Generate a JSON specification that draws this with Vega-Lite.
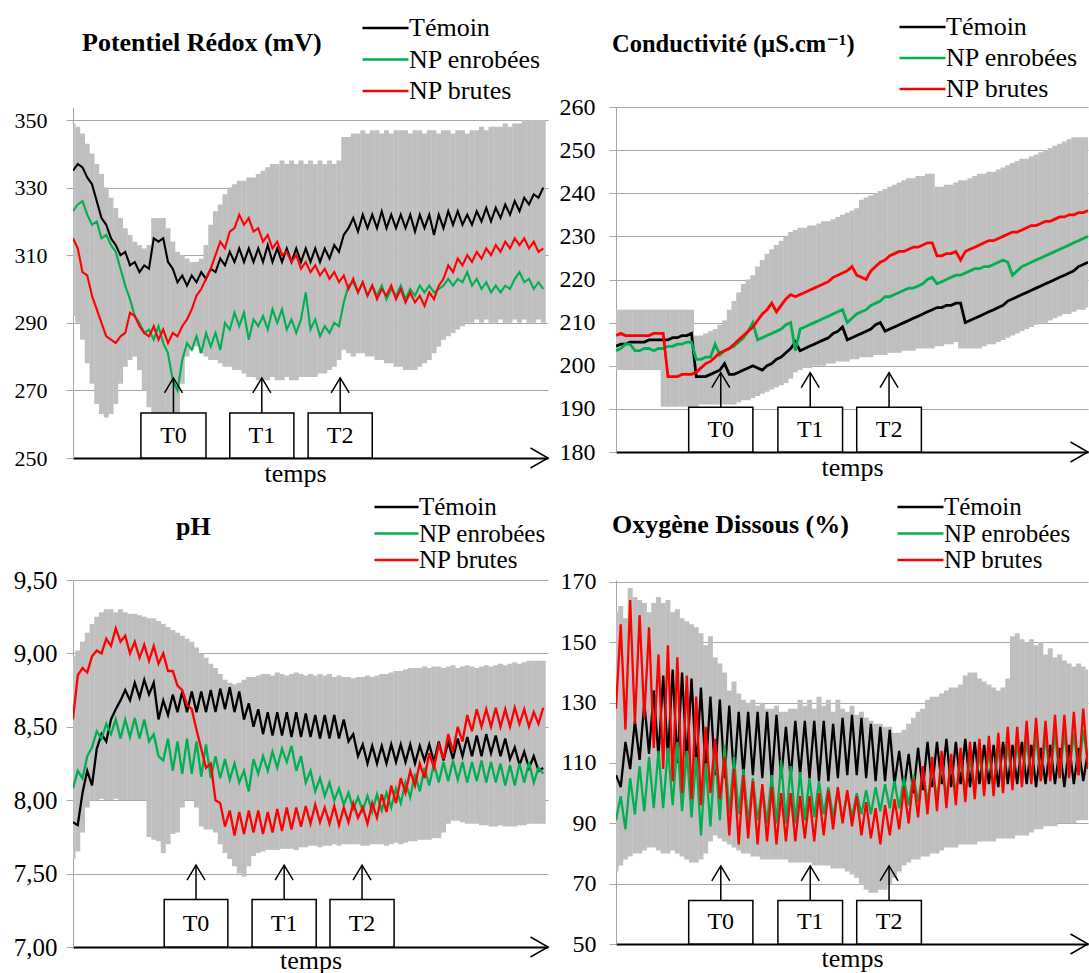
{
"$schema":"https://vega.github.io/schema/vega-lite/v6.json",
"background":"white",
"padding":{"left":13,"top":14,"right":0,"bottom":0},
"config":{"view":{"stroke":null},"font":"'Liberation Serif', 'Times New Roman', 'DejaVu Serif', serif"},
"columns":2,
"spacing":{"row":122,"column":68},
"bounds":"flush",
"resolve":{"legend":{"color":"independent"}},
"datasets":{
"redox":[
{"t":0,"a":335,"b":323,"c":315,"lo":292,"hi":349},{"t":1,"a":337,"b":325,"c":312,"lo":290,"hi":348},{"t":2,"a":336,"b":326,"c":305,"lo":285,"hi":346},{"t":3,"a":333,"b":322,"c":304,"lo":278,"hi":343},{"t":4,"a":331,"b":319,"c":298,"lo":272,"hi":340},{"t":5,"a":326,"b":320,"c":294,"lo":266,"hi":337},{"t":6,"a":321,"b":315,"c":290,"lo":263,"hi":334},{"t":7,"a":319,"b":316,"c":286,"lo":262,"hi":330},{"t":8,"a":315,"b":313,"c":285,"lo":263,"hi":327},{"t":9,"a":313,"b":311,"c":284,"lo":266,"hi":324},
{"t":10,"a":310,"b":306,"c":286,"lo":272,"hi":321},{"t":11,"a":311,"b":301,"c":287,"lo":277,"hi":318},{"t":12,"a":307,"b":297,"c":293,"lo":279,"hi":316},{"t":13,"a":308,"b":292,"c":292,"lo":280,"hi":314},{"t":14,"a":305,"b":290,"c":289,"lo":276,"hi":313},{"t":15,"a":307,"b":287,"c":287,"lo":270,"hi":312},{"t":16,"a":306,"b":288,"c":286,"lo":265,"hi":313},{"t":17,"a":315,"b":285,"c":289,"lo":262,"hi":321},{"t":18,"a":314,"b":289,"c":285,"lo":262,"hi":321},{"t":19,"a":315,"b":284,"c":288,"lo":263,"hi":321},
{"t":20,"a":308,"b":281,"c":284,"lo":262,"hi":318},{"t":21,"a":306,"b":273,"c":287,"lo":262,"hi":314},{"t":22,"a":302,"b":270,"c":286,"lo":263,"hi":311},{"t":23,"a":304,"b":279,"c":289,"lo":272,"hi":310},{"t":24,"a":301,"b":284,"c":291,"lo":280,"hi":309},{"t":25,"a":304,"b":282,"c":294,"lo":282,"hi":308},{"t":26,"a":302,"b":286,"c":298,"lo":283,"hi":308},{"t":27,"a":305,"b":281,"c":300,"lo":281,"hi":309},{"t":28,"a":303,"b":287,"c":303,"lo":280,"hi":313},{"t":29,"a":306,"b":283,"c":306,"lo":279,"hi":319},
{"t":30,"a":305,"b":287,"c":310,"lo":279,"hi":323},{"t":31,"a":309,"b":282,"c":314,"lo":278,"hi":325},{"t":32,"a":307,"b":290,"c":312,"lo":277,"hi":328},{"t":33,"a":311,"b":288,"c":317,"lo":277,"hi":330},{"t":34,"a":308,"b":293,"c":318,"lo":276,"hi":331},{"t":35,"a":312,"b":289,"c":322,"lo":276,"hi":332},{"t":36,"a":308,"b":293,"c":319,"lo":275,"hi":332},{"t":37,"a":312,"b":285,"c":321,"lo":274,"hi":333},{"t":38,"a":308,"b":291,"c":317,"lo":274,"hi":333},{"t":39,"a":312,"b":289,"c":318,"lo":273,"hi":334},
{"t":40,"a":308,"b":292,"c":314,"lo":273,"hi":335},{"t":41,"a":313,"b":288,"c":316,"lo":273,"hi":336},{"t":42,"a":308,"b":294,"c":312,"lo":274,"hi":337},{"t":43,"a":312,"b":290,"c":314,"lo":273,"hi":337},{"t":44,"a":308,"b":294,"c":310,"lo":273,"hi":338},{"t":45,"a":312,"b":288,"c":311,"lo":274,"hi":337},{"t":46,"a":308,"b":291,"c":308,"lo":273,"hi":338},{"t":47,"a":312,"b":287,"c":310,"lo":273,"hi":337},{"t":48,"a":308,"b":291,"c":306,"lo":274,"hi":338},{"t":49,"a":312,"b":299,"c":308,"lo":274,"hi":337},
{"t":50,"a":308,"b":288,"c":305,"lo":274,"hi":338},{"t":51,"a":312,"b":291,"c":307,"lo":274,"hi":337},{"t":52,"a":308,"b":286,"c":304,"lo":275,"hi":338},{"t":53,"a":312,"b":289,"c":306,"lo":275,"hi":337},{"t":54,"a":309,"b":287,"c":303,"lo":276,"hi":338},{"t":55,"a":313,"b":290,"c":305,"lo":277,"hi":337},{"t":56,"a":311,"b":289,"c":302,"lo":279,"hi":338},{"t":57,"a":316,"b":296,"c":304,"lo":282,"hi":345},{"t":58,"a":318,"b":301,"c":300,"lo":281,"hi":345},{"t":59,"a":321,"b":302,"c":303,"lo":280,"hi":346},
{"t":60,"a":317,"b":299,"c":299,"lo":281,"hi":346},{"t":61,"a":322,"b":302,"c":302,"lo":281,"hi":347},{"t":62,"a":318,"b":298,"c":298,"lo":280,"hi":346},{"t":63,"a":322,"b":301,"c":301,"lo":280,"hi":347},{"t":64,"a":318,"b":298,"c":297,"lo":279,"hi":347},{"t":65,"a":323,"b":301,"c":300,"lo":279,"hi":346},{"t":66,"a":318,"b":297,"c":298,"lo":278,"hi":347},{"t":67,"a":322,"b":300,"c":301,"lo":278,"hi":346},{"t":68,"a":318,"b":298,"c":297,"lo":277,"hi":347},{"t":69,"a":322,"b":301,"c":300,"lo":277,"hi":347},
{"t":70,"a":318,"b":297,"c":296,"lo":276,"hi":347},{"t":71,"a":322,"b":300,"c":299,"lo":276,"hi":346},{"t":72,"a":317,"b":298,"c":296,"lo":276,"hi":347},{"t":73,"a":322,"b":301,"c":298,"lo":277,"hi":347},{"t":74,"a":318,"b":299,"c":295,"lo":278,"hi":346},{"t":75,"a":322,"b":301,"c":299,"lo":279,"hi":347},{"t":76,"a":316,"b":299,"c":297,"lo":281,"hi":347},{"t":77,"a":322,"b":300,"c":301,"lo":283,"hi":346},{"t":78,"a":318,"b":301,"c":303,"lo":285,"hi":347},{"t":79,"a":323,"b":303,"c":307,"lo":286,"hi":347},
{"t":80,"a":319,"b":301,"c":305,"lo":287,"hi":346},{"t":81,"a":323,"b":303,"c":309,"lo":288,"hi":347},{"t":82,"a":319,"b":302,"c":307,"lo":289,"hi":347},{"t":83,"a":322,"b":305,"c":310,"lo":290,"hi":346},{"t":84,"a":319,"b":301,"c":308,"lo":290,"hi":347},{"t":85,"a":323,"b":303,"c":311,"lo":291,"hi":347},{"t":86,"a":320,"b":300,"c":309,"lo":290,"hi":348},{"t":87,"a":324,"b":302,"c":312,"lo":291,"hi":347},{"t":88,"a":320,"b":299,"c":310,"lo":290,"hi":348},{"t":89,"a":324,"b":301,"c":313,"lo":290,"hi":348},
{"t":90,"a":321,"b":299,"c":311,"lo":291,"hi":348},{"t":91,"a":325,"b":301,"c":314,"lo":290,"hi":349},{"t":92,"a":322,"b":300,"c":312,"lo":290,"hi":348},{"t":93,"a":326,"b":303,"c":315,"lo":291,"hi":349},{"t":94,"a":323,"b":305,"c":313,"lo":290,"hi":349},{"t":95,"a":327,"b":302,"c":315,"lo":291,"hi":350},{"t":96,"a":325,"b":303,"c":312,"lo":290,"hi":350},{"t":97,"a":328,"b":300,"c":314,"lo":290,"hi":350},{"t":98,"a":327,"b":302,"c":311,"lo":291,"hi":350},{"t":99,"a":330,"b":300,"c":312,"lo":290,"hi":350}
],
"cond":[
{"t":0,"a":204.5,"b":203.5,"c":207,"lo":199,"hi":213},{"t":1,"a":205,"b":204,"c":207.5,"lo":199,"hi":213},{"t":2,"a":205,"b":205,"c":207,"lo":199,"hi":213},{"t":3,"a":205.5,"b":205,"c":207,"lo":199,"hi":213},{"t":4,"a":205.5,"b":203.5,"c":207,"lo":199,"hi":213},{"t":5,"a":205.5,"b":203.5,"c":207,"lo":199,"hi":213},{"t":6,"a":205.5,"b":204,"c":207,"lo":199,"hi":213},{"t":7,"a":206,"b":204,"c":207,"lo":199,"hi":213},{"t":8,"a":206,"b":203.5,"c":207.5,"lo":199,"hi":213},{"t":9,"a":206,"b":204,"c":207.5,"lo":199,"hi":213},
{"t":10,"a":206,"b":204,"c":207.5,"lo":190.5,"hi":213},{"t":11,"a":206,"b":204.5,"c":197.5,"lo":190.5,"hi":213},{"t":12,"a":206.5,"b":204.5,"c":197.5,"lo":190.5,"hi":213},{"t":13,"a":206.5,"b":205,"c":197.5,"lo":190.5,"hi":213},{"t":14,"a":207,"b":205,"c":198,"lo":190.5,"hi":213},{"t":15,"a":207,"b":205.5,"c":198,"lo":190.5,"hi":213},{"t":16,"a":207.5,"b":205.5,"c":198,"lo":190.5,"hi":213},{"t":17,"a":197.5,"b":201.5,"c":198.5,"lo":190.5,"hi":207},{"t":18,"a":197.5,"b":201.5,"c":199.5,"lo":191,"hi":207},{"t":19,"a":197.5,"b":202,"c":200.5,"lo":191,"hi":207.5},
{"t":20,"a":198,"b":202,"c":201,"lo":191,"hi":208},{"t":21,"a":198.5,"b":205,"c":202,"lo":191,"hi":208.5},{"t":22,"a":199,"b":202.5,"c":203,"lo":191,"hi":209.5},{"t":23,"a":200.5,"b":203.5,"c":203.5,"lo":191,"hi":210.5},{"t":24,"a":198,"b":204,"c":204,"lo":191,"hi":213},{"t":25,"a":198,"b":204.5,"c":205,"lo":191,"hi":215},{"t":26,"a":198.5,"b":205.5,"c":206,"lo":191.5,"hi":217},{"t":27,"a":199,"b":206.5,"c":207,"lo":192,"hi":219},{"t":28,"a":199.5,"b":208,"c":208,"lo":192,"hi":220},{"t":29,"a":200,"b":210,"c":209,"lo":192.5,"hi":221},
{"t":30,"a":199.5,"b":206,"c":210.5,"lo":193,"hi":223},{"t":31,"a":199,"b":206.5,"c":212,"lo":193.5,"hi":224.5},{"t":32,"a":200,"b":207,"c":213,"lo":194,"hi":226},{"t":33,"a":200.5,"b":207.5,"c":214.5,"lo":194.5,"hi":227},{"t":34,"a":201.5,"b":208,"c":212.5,"lo":195,"hi":228},{"t":35,"a":202,"b":208.5,"c":214,"lo":195.5,"hi":229},{"t":36,"a":203,"b":209.5,"c":215.5,"lo":196,"hi":230},{"t":37,"a":204,"b":210,"c":216.5,"lo":197,"hi":231},{"t":38,"a":205.5,"b":203.5,"c":216,"lo":198.5,"hi":231.5},{"t":39,"a":203.5,"b":208.5,"c":216.5,"lo":199,"hi":232},
{"t":40,"a":204,"b":209,"c":217,"lo":199.5,"hi":232},{"t":41,"a":204.5,"b":209.5,"c":217.5,"lo":199.5,"hi":232.5},{"t":42,"a":205,"b":210,"c":218,"lo":200,"hi":232.5},{"t":43,"a":205.5,"b":210.5,"c":218.5,"lo":200,"hi":233},{"t":44,"a":206,"b":211,"c":219,"lo":200,"hi":233.5},{"t":45,"a":206.5,"b":211.5,"c":219.5,"lo":200.5,"hi":233.5},{"t":46,"a":207.5,"b":212,"c":220.5,"lo":200.5,"hi":234},{"t":47,"a":208,"b":212.5,"c":221,"lo":201,"hi":234.5},{"t":48,"a":209,"b":213,"c":221.5,"lo":201,"hi":235},{"t":49,"a":206,"b":210,"c":222,"lo":201,"hi":235.5},
{"t":50,"a":206.5,"b":211,"c":223,"lo":201.5,"hi":236},{"t":51,"a":207,"b":212,"c":221,"lo":201.5,"hi":236.5},{"t":52,"a":207.5,"b":212.5,"c":220.5,"lo":202,"hi":238.5},{"t":53,"a":208,"b":213,"c":220,"lo":202,"hi":239},{"t":54,"a":208.5,"b":214,"c":222,"lo":202,"hi":239.5},{"t":55,"a":209.5,"b":214.5,"c":223,"lo":202.5,"hi":240},{"t":56,"a":210,"b":215,"c":224,"lo":202.5,"hi":240.5},{"t":57,"a":208,"b":216,"c":224.5,"lo":202.5,"hi":241},{"t":58,"a":208.5,"b":216,"c":225.5,"lo":203,"hi":241.5},{"t":59,"a":209,"b":216.5,"c":226,"lo":203,"hi":242},
{"t":60,"a":209.5,"b":217,"c":226.5,"lo":203,"hi":242.5},{"t":61,"a":210,"b":217.5,"c":226.5,"lo":203.5,"hi":243},{"t":62,"a":210.5,"b":218,"c":227,"lo":203.5,"hi":243.5},{"t":63,"a":211,"b":218,"c":227.5,"lo":203.5,"hi":243.5},{"t":64,"a":211.5,"b":218.5,"c":227.5,"lo":204,"hi":244},{"t":65,"a":212,"b":219,"c":228,"lo":204,"hi":244},{"t":66,"a":212.5,"b":220,"c":228.5,"lo":204,"hi":244.5},{"t":67,"a":213,"b":220.5,"c":228.5,"lo":204,"hi":244.5},{"t":68,"a":213.5,"b":219,"c":225.5,"lo":204.5,"hi":241.5},{"t":69,"a":213.5,"b":219.5,"c":225.5,"lo":204.5,"hi":241.5},
{"t":70,"a":214,"b":220,"c":226,"lo":205,"hi":242},{"t":71,"a":214,"b":220.5,"c":226,"lo":205,"hi":242},{"t":72,"a":214.5,"b":221,"c":226.5,"lo":205.5,"hi":242.5},{"t":73,"a":214.5,"b":221,"c":224.5,"lo":204,"hi":243},{"t":74,"a":210,"b":221.5,"c":226.5,"lo":204,"hi":243},{"t":75,"a":210.5,"b":222,"c":227,"lo":204,"hi":243.5},{"t":76,"a":211,"b":222.5,"c":227.5,"lo":204,"hi":244},{"t":77,"a":211.5,"b":222.5,"c":228,"lo":204,"hi":244.5},{"t":78,"a":212,"b":223,"c":228.5,"lo":204.5,"hi":244.5},{"t":79,"a":212.5,"b":223,"c":229,"lo":205,"hi":245},
{"t":80,"a":213,"b":223.5,"c":229,"lo":205,"hi":245},{"t":81,"a":213.5,"b":224,"c":229.5,"lo":205.5,"hi":245.5},{"t":82,"a":214,"b":224.5,"c":230,"lo":206,"hi":246},{"t":83,"a":215,"b":224,"c":230.5,"lo":206.5,"hi":246.5},{"t":84,"a":215.5,"b":221,"c":231,"lo":207,"hi":247},{"t":85,"a":216,"b":222,"c":231,"lo":207.5,"hi":247.5},{"t":86,"a":216.5,"b":223,"c":231.5,"lo":208,"hi":248},{"t":87,"a":217,"b":223.5,"c":232,"lo":208.5,"hi":248},{"t":88,"a":217.5,"b":224,"c":232.5,"lo":209,"hi":248.5},{"t":89,"a":218,"b":224.5,"c":232.5,"lo":209.5,"hi":249},
{"t":90,"a":218.5,"b":225,"c":233,"lo":210,"hi":249.5},{"t":91,"a":219,"b":225.5,"c":233.5,"lo":210,"hi":250},{"t":92,"a":219.5,"b":226,"c":233.5,"lo":210.5,"hi":250.5},{"t":93,"a":220,"b":226.5,"c":234,"lo":211,"hi":251},{"t":94,"a":220.5,"b":227,"c":234.5,"lo":211.5,"hi":251.5},{"t":95,"a":221,"b":227.5,"c":234.5,"lo":212,"hi":252},{"t":96,"a":221.5,"b":228,"c":235,"lo":212,"hi":252.5},{"t":97,"a":222,"b":228.5,"c":235,"lo":212.5,"hi":253},{"t":98,"a":223,"b":229,"c":235.5,"lo":213,"hi":253},{"t":99,"a":223.5,"b":229.5,"c":235.5,"lo":213,"hi":253},{"t":100,"a":224,"b":230,"c":236,"lo":213.5,"hi":253}
],
"ph":[
{"t":0,"a":7.85,"b":8.08,"c":8.55,"lo":7.6,"hi":8.98},{"t":1,"a":7.83,"b":8.2,"c":8.85,"lo":7.65,"hi":9.02},{"t":2,"a":8.05,"b":8.15,"c":8.9,"lo":7.78,"hi":9.08},{"t":3,"a":8.2,"b":8.3,"c":8.87,"lo":7.95,"hi":9.14},{"t":4,"a":8.1,"b":8.36,"c":8.98,"lo":8.0,"hi":9.2},{"t":5,"a":8.35,"b":8.47,"c":9.02,"lo":8.0,"hi":9.25},{"t":6,"a":8.45,"b":8.42,"c":9.0,"lo":8.01,"hi":9.28},{"t":7,"a":8.4,"b":8.52,"c":9.1,"lo":8.0,"hi":9.3},{"t":8,"a":8.55,"b":8.45,"c":9.05,"lo":8.0,"hi":9.3},{"t":9,"a":8.62,"b":8.55,"c":9.17,"lo":8.01,"hi":9.28},
{"t":10,"a":8.68,"b":8.42,"c":9.08,"lo":8.0,"hi":9.3},{"t":11,"a":8.75,"b":8.55,"c":9.12,"lo":8.0,"hi":9.28},{"t":12,"a":8.68,"b":8.43,"c":9.0,"lo":8.0,"hi":9.27},{"t":13,"a":8.8,"b":8.56,"c":9.08,"lo":8.0,"hi":9.27},{"t":14,"a":8.7,"b":8.42,"c":8.97,"lo":8.0,"hi":9.26},{"t":15,"a":8.82,"b":8.55,"c":9.06,"lo":8.0,"hi":9.25},{"t":16,"a":8.72,"b":8.4,"c":8.95,"lo":7.75,"hi":9.24},{"t":17,"a":8.8,"b":8.45,"c":9.05,"lo":7.73,"hi":9.24},{"t":18,"a":8.55,"b":8.3,"c":8.93,"lo":7.72,"hi":9.22},{"t":19,"a":8.68,"b":8.27,"c":9.0,"lo":7.64,"hi":9.2},
{"t":20,"a":8.58,"b":8.42,"c":8.88,"lo":7.7,"hi":9.18},{"t":21,"a":8.72,"b":8.2,"c":8.88,"lo":7.77,"hi":9.16},{"t":22,"a":8.6,"b":8.4,"c":8.78,"lo":7.78,"hi":9.14},{"t":23,"a":8.74,"b":8.18,"c":8.75,"lo":7.95,"hi":9.12},{"t":24,"a":8.6,"b":8.42,"c":8.65,"lo":8.0,"hi":9.1},{"t":25,"a":8.74,"b":8.18,"c":8.62,"lo":8.0,"hi":9.08},{"t":26,"a":8.6,"b":8.4,"c":8.48,"lo":7.95,"hi":9.04},{"t":27,"a":8.74,"b":8.16,"c":8.35,"lo":7.82,"hi":9.0},{"t":28,"a":8.6,"b":8.38,"c":8.22,"lo":7.8,"hi":8.97},{"t":29,"a":8.75,"b":8.15,"c":8.25,"lo":7.8,"hi":8.93},
{"t":30,"a":8.6,"b":8.3,"c":8.0,"lo":7.78,"hi":8.9},{"t":31,"a":8.76,"b":8.15,"c":7.98,"lo":7.7,"hi":8.86},{"t":32,"a":8.62,"b":8.28,"c":7.82,"lo":7.64,"hi":8.82},{"t":33,"a":8.77,"b":8.14,"c":7.93,"lo":7.6,"hi":8.8},{"t":34,"a":8.6,"b":8.25,"c":7.76,"lo":7.55,"hi":8.79},{"t":35,"a":8.74,"b":8.12,"c":7.92,"lo":7.5,"hi":8.8},{"t":36,"a":8.55,"b":8.2,"c":7.77,"lo":7.48,"hi":8.82},{"t":37,"a":8.66,"b":8.06,"c":7.93,"lo":7.55,"hi":8.84},{"t":38,"a":8.5,"b":8.28,"c":7.78,"lo":7.62,"hi":8.84},{"t":39,"a":8.62,"b":8.18,"c":7.93,"lo":7.64,"hi":8.85},
{"t":40,"a":8.45,"b":8.3,"c":7.77,"lo":7.65,"hi":8.86},{"t":41,"a":8.6,"b":8.2,"c":7.92,"lo":7.66,"hi":8.86},{"t":42,"a":8.44,"b":8.33,"c":7.78,"lo":7.66,"hi":8.85},{"t":43,"a":8.6,"b":8.22,"c":7.94,"lo":7.66,"hi":8.87},{"t":44,"a":8.44,"b":8.35,"c":7.79,"lo":7.67,"hi":8.86},{"t":45,"a":8.6,"b":8.26,"c":7.95,"lo":7.67,"hi":8.85},{"t":46,"a":8.43,"b":8.37,"c":7.8,"lo":7.67,"hi":8.86},{"t":47,"a":8.6,"b":8.2,"c":7.95,"lo":7.66,"hi":8.87},{"t":48,"a":8.43,"b":8.3,"c":7.82,"lo":7.68,"hi":8.86},{"t":49,"a":8.59,"b":8.12,"c":7.96,"lo":7.68,"hi":8.85},
{"t":50,"a":8.43,"b":8.2,"c":7.84,"lo":7.69,"hi":8.86},{"t":51,"a":8.58,"b":8.06,"c":7.97,"lo":7.69,"hi":8.85},{"t":52,"a":8.42,"b":8.15,"c":7.85,"lo":7.68,"hi":8.86},{"t":53,"a":8.58,"b":8.03,"c":7.95,"lo":7.69,"hi":8.85},{"t":54,"a":8.42,"b":8.12,"c":7.84,"lo":7.69,"hi":8.86},{"t":55,"a":8.58,"b":8.0,"c":7.96,"lo":7.7,"hi":8.84},{"t":56,"a":8.42,"b":8.08,"c":7.83,"lo":7.69,"hi":8.85},{"t":57,"a":8.55,"b":7.97,"c":7.95,"lo":7.7,"hi":8.84},{"t":58,"a":8.4,"b":8.05,"c":7.85,"lo":7.7,"hi":8.84},{"t":59,"a":8.45,"b":7.94,"c":7.98,"lo":7.7,"hi":8.83},
{"t":60,"a":8.3,"b":8.02,"c":7.88,"lo":7.7,"hi":8.84},{"t":61,"a":8.38,"b":7.93,"c":7.95,"lo":7.69,"hi":8.84},{"t":62,"a":8.25,"b":8.03,"c":7.84,"lo":7.69,"hi":8.85},{"t":63,"a":8.37,"b":7.92,"c":7.98,"lo":7.7,"hi":8.84},{"t":64,"a":8.25,"b":8.04,"c":7.88,"lo":7.7,"hi":8.85},{"t":65,"a":8.37,"b":7.93,"c":8.04,"lo":7.7,"hi":8.86},{"t":66,"a":8.25,"b":8.05,"c":7.92,"lo":7.69,"hi":8.86},{"t":67,"a":8.38,"b":7.95,"c":8.1,"lo":7.7,"hi":8.87},{"t":68,"a":8.26,"b":8.08,"c":7.98,"lo":7.71,"hi":8.88},{"t":69,"a":8.38,"b":7.98,"c":8.15,"lo":7.7,"hi":8.88},
{"t":70,"a":8.26,"b":8.12,"c":8.05,"lo":7.71,"hi":8.89},{"t":71,"a":8.38,"b":8.02,"c":8.2,"lo":7.72,"hi":8.9},{"t":72,"a":8.25,"b":8.18,"c":8.1,"lo":7.72,"hi":8.9},{"t":73,"a":8.37,"b":8.06,"c":8.25,"lo":7.73,"hi":8.9},{"t":74,"a":8.27,"b":8.22,"c":8.15,"lo":7.73,"hi":8.91},{"t":75,"a":8.38,"b":8.1,"c":8.32,"lo":7.73,"hi":8.9},{"t":76,"a":8.26,"b":8.25,"c":8.22,"lo":7.74,"hi":8.91},{"t":77,"a":8.4,"b":8.12,"c":8.38,"lo":7.74,"hi":8.91},{"t":78,"a":8.27,"b":8.26,"c":8.28,"lo":7.78,"hi":8.9},{"t":79,"a":8.4,"b":8.13,"c":8.45,"lo":7.84,"hi":8.91},
{"t":80,"a":8.28,"b":8.27,"c":8.33,"lo":7.86,"hi":8.92},{"t":81,"a":8.42,"b":8.14,"c":8.5,"lo":7.86,"hi":8.9},{"t":82,"a":8.3,"b":8.26,"c":8.4,"lo":7.85,"hi":8.91},{"t":83,"a":8.43,"b":8.12,"c":8.58,"lo":7.84,"hi":8.92},{"t":84,"a":8.3,"b":8.26,"c":8.47,"lo":7.84,"hi":8.91},{"t":85,"a":8.44,"b":8.13,"c":8.62,"lo":7.84,"hi":8.9},{"t":86,"a":8.3,"b":8.27,"c":8.5,"lo":7.83,"hi":8.91},{"t":87,"a":8.45,"b":8.12,"c":8.62,"lo":7.83,"hi":8.92},{"t":88,"a":8.32,"b":8.26,"c":8.5,"lo":7.82,"hi":8.91},{"t":89,"a":8.44,"b":8.12,"c":8.63,"lo":7.82,"hi":8.92},
{"t":90,"a":8.3,"b":8.25,"c":8.5,"lo":7.83,"hi":8.93},{"t":91,"a":8.42,"b":8.1,"c":8.62,"lo":7.82,"hi":8.92},{"t":92,"a":8.28,"b":8.24,"c":8.5,"lo":7.82,"hi":8.93},{"t":93,"a":8.36,"b":8.1,"c":8.63,"lo":7.82,"hi":8.94},{"t":94,"a":8.24,"b":8.25,"c":8.52,"lo":7.83,"hi":8.93},{"t":95,"a":8.33,"b":8.12,"c":8.62,"lo":7.83,"hi":8.94},{"t":96,"a":8.22,"b":8.26,"c":8.5,"lo":7.84,"hi":8.95},{"t":97,"a":8.3,"b":8.12,"c":8.6,"lo":7.84,"hi":8.95},{"t":98,"a":8.2,"b":8.22,"c":8.52,"lo":7.84,"hi":8.95},{"t":99,"a":8.22,"b":8.18,"c":8.63,"lo":7.84,"hi":8.95}
],
"o2":[
{"t":0,"a":106,"b":91,"c":128,"lo":74,"hi":160},{"t":1,"a":102,"b":99,"c":156,"lo":76,"hi":162},{"t":2,"a":117,"b":88,"c":121,"lo":78,"hi":158},{"t":3,"a":108,"b":105,"c":164,"lo":79,"hi":168},{"t":4,"a":124,"b":93,"c":123,"lo":80,"hi":165},{"t":5,"a":111,"b":109,"c":159,"lo":80,"hi":164},{"t":6,"a":130,"b":94,"c":125,"lo":81,"hi":163},{"t":7,"a":113,"b":112,"c":155,"lo":82,"hi":160},{"t":8,"a":134,"b":95,"c":115,"lo":82,"hi":163},{"t":9,"a":112,"b":114,"c":146,"lo":81,"hi":165},
{"t":10,"a":139,"b":95,"c":108,"lo":80,"hi":163},{"t":11,"a":112,"b":115,"c":149,"lo":80,"hi":164},{"t":12,"a":141,"b":96,"c":104,"lo":81,"hi":160},{"t":13,"a":110,"b":117,"c":145,"lo":80,"hi":161},{"t":14,"a":140,"b":94,"c":100,"lo":79,"hi":158},{"t":15,"a":110,"b":114,"c":139,"lo":78,"hi":157},{"t":16,"a":138,"b":92,"c":98,"lo":77,"hi":156},{"t":17,"a":108,"b":112,"c":132,"lo":77,"hi":155},{"t":18,"a":135,"b":86,"c":96,"lo":78,"hi":153},{"t":19,"a":107,"b":110,"c":122,"lo":80,"hi":149},
{"t":20,"a":132,"b":89,"c":100,"lo":84,"hi":152},{"t":21,"a":106,"b":114,"c":118,"lo":86,"hi":145},{"t":22,"a":131,"b":91,"c":98,"lo":85,"hi":143},{"t":23,"a":105,"b":116,"c":112,"lo":84,"hi":140},{"t":24,"a":129,"b":93,"c":86,"lo":83,"hi":134},{"t":25,"a":105,"b":112,"c":108,"lo":82,"hi":137},{"t":26,"a":127,"b":93,"c":83,"lo":81,"hi":133},{"t":27,"a":106,"b":108,"c":106,"lo":80,"hi":131},{"t":28,"a":127,"b":90,"c":85,"lo":80,"hi":130},{"t":29,"a":106,"b":105,"c":104,"lo":79,"hi":131},
{"t":30,"a":127,"b":91,"c":83,"lo":79,"hi":129},{"t":31,"a":105,"b":102,"c":103,"lo":78,"hi":130},{"t":32,"a":127,"b":90,"c":84,"lo":78,"hi":128},{"t":33,"a":104,"b":106,"c":102,"lo":78,"hi":128},{"t":34,"a":126,"b":90,"c":83,"lo":78,"hi":129},{"t":35,"a":105,"b":111,"c":100,"lo":78,"hi":127},{"t":36,"a":122,"b":90,"c":84,"lo":78,"hi":127},{"t":37,"a":105,"b":109,"c":100,"lo":77,"hi":128},{"t":38,"a":124,"b":90,"c":84,"lo":77,"hi":128},{"t":39,"a":106,"b":107,"c":99,"lo":77,"hi":131},
{"t":40,"a":124,"b":91,"c":85,"lo":77,"hi":129},{"t":41,"a":105,"b":105,"c":99,"lo":77,"hi":131},{"t":42,"a":124,"b":92,"c":84,"lo":76,"hi":128},{"t":43,"a":104,"b":104,"c":100,"lo":76,"hi":132},{"t":44,"a":124,"b":93,"c":86,"lo":76,"hi":129},{"t":45,"a":104,"b":102,"c":101,"lo":76,"hi":131},{"t":46,"a":123,"b":92,"c":88,"lo":75,"hi":127},{"t":47,"a":105,"b":101,"c":102,"lo":75,"hi":131},{"t":48,"a":125,"b":91,"c":90,"lo":75,"hi":128},{"t":49,"a":106,"b":100,"c":101,"lo":74,"hi":127},
{"t":50,"a":126,"b":92,"c":89,"lo":73,"hi":129},{"t":51,"a":106,"b":100,"c":99,"lo":72,"hi":126},{"t":52,"a":125,"b":93,"c":86,"lo":70,"hi":127},{"t":53,"a":105,"b":101,"c":97,"lo":68,"hi":125},{"t":54,"a":123,"b":93,"c":85,"lo":67,"hi":124},{"t":55,"a":104,"b":102,"c":95,"lo":67,"hi":123},{"t":56,"a":122,"b":94,"c":83,"lo":68,"hi":123},{"t":57,"a":104,"b":103,"c":96,"lo":68,"hi":122},{"t":58,"a":121,"b":95,"c":86,"lo":70,"hi":122},{"t":59,"a":103,"b":104,"c":98,"lo":72,"hi":120},
{"t":60,"a":114,"b":95,"c":88,"lo":74,"hi":120},{"t":61,"a":101,"b":105,"c":102,"lo":76,"hi":121},{"t":62,"a":113,"b":96,"c":90,"lo":77,"hi":123},{"t":63,"a":100,"b":106,"c":105,"lo":78,"hi":125},{"t":64,"a":115,"b":97,"c":92,"lo":78,"hi":127},{"t":65,"a":101,"b":107,"c":109,"lo":79,"hi":128},{"t":66,"a":117,"b":97,"c":93,"lo":79,"hi":131},{"t":67,"a":102,"b":108,"c":112,"lo":80,"hi":132},{"t":68,"a":117,"b":98,"c":94,"lo":80,"hi":132},{"t":69,"a":103,"b":109,"c":114,"lo":81,"hi":133},
{"t":70,"a":118,"b":99,"c":95,"lo":82,"hi":134},{"t":71,"a":102,"b":110,"c":113,"lo":82,"hi":135},{"t":72,"a":117,"b":100,"c":96,"lo":82,"hi":135},{"t":73,"a":103,"b":111,"c":115,"lo":83,"hi":136},{"t":74,"a":118,"b":100,"c":97,"lo":83,"hi":139},{"t":75,"a":102,"b":112,"c":117,"lo":83,"hi":140},{"t":76,"a":117,"b":101,"c":98,"lo":83,"hi":140},{"t":77,"a":103,"b":113,"c":118,"lo":84,"hi":138},{"t":78,"a":116,"b":101,"c":99,"lo":84,"hi":137},{"t":79,"a":103,"b":114,"c":119,"lo":84,"hi":136},
{"t":80,"a":116,"b":102,"c":99,"lo":84,"hi":135},{"t":81,"a":102,"b":115,"c":120,"lo":85,"hi":134},{"t":82,"a":117,"b":102,"c":100,"lo":85,"hi":135},{"t":83,"a":103,"b":116,"c":122,"lo":85,"hi":138},{"t":84,"a":116,"b":103,"c":101,"lo":85,"hi":152},{"t":85,"a":103,"b":117,"c":122,"lo":86,"hi":153},{"t":86,"a":117,"b":103,"c":102,"lo":86,"hi":151},{"t":87,"a":103,"b":118,"c":124,"lo":86,"hi":150},{"t":88,"a":116,"b":104,"c":103,"lo":87,"hi":151},{"t":89,"a":102,"b":119,"c":125,"lo":88,"hi":149},
{"t":90,"a":115,"b":104,"c":104,"lo":88,"hi":150},{"t":91,"a":103,"b":119,"c":124,"lo":89,"hi":146},{"t":92,"a":116,"b":105,"c":104,"lo":89,"hi":148},{"t":93,"a":103,"b":120,"c":126,"lo":89,"hi":145},{"t":94,"a":115,"b":105,"c":105,"lo":90,"hi":146},{"t":95,"a":102,"b":120,"c":126,"lo":90,"hi":144},{"t":96,"a":116,"b":106,"c":105,"lo":90,"hi":143},{"t":97,"a":103,"b":120,"c":127,"lo":90,"hi":142},{"t":98,"a":115,"b":106,"c":106,"lo":91,"hi":143},{"t":99,"a":104,"b":121,"c":128,"lo":91,"hi":142},{"t":100,"a":114,"b":110,"c":108,"lo":91,"hi":141}
]
},
"concat":[
{
"width":475,"height":351,
"title":{"text":"Potentiel Rédox (mV)","anchor":"start","frame":"group","dx":9,"offset":-61.5,"baseline":"alphabetic","font":"'Liberation Serif', 'Times New Roman', 'DejaVu Serif', serif","fontSize":26,"fontWeight":"bold","color":"black"},
"data":{"name":"redox"},
"layer":[
{"mark":{"type":"rule","color":"#BFBFBF","strokeWidth":5,"clip":true},
"encoding":{
"x":{"field":"t","type":"quantitative","scale":{"domain":[0,100],"nice":false,"zero":false},"axis":{"title":"temps","titleX":222,"domain":true,"domainColor":"black","domainWidth":2,"ticks":false,"labels":false,"grid":false,"titleFont":"'Liberation Serif', 'Times New Roman', 'DejaVu Serif', serif","titleFontWeight":"normal","titleFontSize":26,"titleColor":"black","titlePadding":2}},
"y":{"field":"lo","type":"quantitative","scale":{"domain":[250,353.85],"nice":false,"zero":false},"axis":{"title":null,"values":[250,260,270,280,290,300,310,320,330,340,350],"format":"d","labelOverlap":false,"grid":true,"gridColor":"#A6A6A6","gridWidth":1,"domain":true,"domainColor":"#A6A6A6","domainWidth":1,"ticks":true,"tickSize":7,"tickColor":"#A6A6A6","labelFont":"'Liberation Serif', 'Times New Roman', 'DejaVu Serif', serif","labelFontSize":22,"labelColor":"black","labelPadding":19}},
"y2":{"field":"hi"}}},
{"transform":[{"fold":["a","b","c"],"as":["s","v"]}],
"mark":{"type":"line","strokeWidth":2.1,"clip":true},
"encoding":{
"x":{"field":"t","type":"quantitative","title":"temps"},
"y":{"field":"v","type":"quantitative","title":null},
"color":{"field":"s","type":"nominal","scale":{"domain":["a","b","c"],"range":["#000000","#00B050","#FF0000"]},
"legend":{"orient":"none","legendX":288,"legendY":-91.5,"title":null,"labelExpr":"datum.label=='a'?'Témoin':datum.label=='b'?'NP enrobées':'NP brutes'","symbolType":"stroke","symbolStrokeWidth":2.5,"symbolSize":2116,"labelFont":"'Liberation Serif', 'Times New Roman', 'DejaVu Serif', serif","labelFontSize":26,"labelColor":"black","clipHeight":25,"rowPadding":4.5,"labelOffset":-1,"padding":0}}}},
{"data":{"values":[{"k":"T0","x0":14.3,"x1":28,"ax":21.15,"top":263.3,"tip":273.7,"mid":256.6},{"k":"T1","x0":33,"x1":46.5,"ax":39.75,"top":263.3,"tip":273.7,"mid":256.6},{"k":"T2","x0":49.5,"x1":63,"ax":56.25,"top":263.3,"tip":273.7,"mid":256.6}]},
"layer":[
{"mark":{"type":"rule","color":"black","strokeWidth":1.5},"encoding":{"x":{"field":"ax","type":"quantitative","title":"temps"},"y":{"field":"top","type":"quantitative","title":null},"y2":{"field":"tip"}}},
{"mark":{"type":"point","shape":"M-0.6,1L0,0L0.6,1","size":900,"filled":false,"stroke":"black","strokeWidth":1.5,"opacity":1},"encoding":{"x":{"field":"ax","type":"quantitative","title":"temps"},"y":{"field":"tip","type":"quantitative","title":null}}},
{"mark":{"type":"rect","fill":"white","stroke":"black","strokeWidth":1.5},"encoding":{"x":{"field":"x0","type":"quantitative","title":"temps"},"x2":{"field":"x1"},"y":{"field":"top","type":"quantitative","title":null},"y2":{"datum":250}}},
{"mark":{"type":"text","font":"'Liberation Serif', 'Times New Roman', 'DejaVu Serif', serif","fontSize":24,"baseline":"middle","align":"center","color":"black"},"encoding":{"x":{"field":"ax","type":"quantitative","title":"temps"},"y":{"field":"mid","type":"quantitative","title":null},"text":{"field":"k"}}}
]},
{"data":{"values":[{}]},"mark":{"type":"point","shape":"M-1,-0.57L0,0L-1,0.57","size":1225,"filled":false,"stroke":"black","strokeWidth":1.5,"opacity":1},"encoding":{"x":{"datum":100},"y":{"datum":250}}}
]
},
{
"width":472,"height":345,
"title":{"text":"Conductivité (µS.cm⁻¹)","anchor":"start","frame":"group","dx":-4,"offset":-61.5,"baseline":"alphabetic","font":"'Liberation Serif', 'Times New Roman', 'DejaVu Serif', serif","fontSize":24.5,"fontWeight":"bold","color":"black"},
"data":{"name":"cond"},
"layer":[
{"mark":{"type":"rule","color":"#BFBFBF","strokeWidth":5,"clip":true},
"encoding":{
"x":{"field":"t","type":"quantitative","scale":{"domain":[0,100],"nice":false,"zero":false},"axis":{"title":"temps","domain":true,"domainColor":"black","domainWidth":2,"ticks":false,"labels":false,"grid":false,"titleFont":"'Liberation Serif', 'Times New Roman', 'DejaVu Serif', serif","titleFontWeight":"normal","titleFontSize":26,"titleColor":"black","titlePadding":2}},
"y":{"field":"lo","type":"quantitative","scale":{"domain":[180,260],"nice":false,"zero":false},"axis":{"title":null,"values":[180,190,200,210,220,230,240,250,260],"format":"d","labelOverlap":false,"grid":true,"gridColor":"#A6A6A6","gridWidth":1,"domain":true,"domainColor":"#A6A6A6","domainWidth":1,"ticks":true,"tickSize":7,"tickColor":"#A6A6A6","labelFont":"'Liberation Serif', 'Times New Roman', 'DejaVu Serif', serif","labelFontSize":24,"labelColor":"black","labelPadding":14}},
"y2":{"field":"hi"}}},
{"transform":[{"fold":["a","b","c"],"as":["s","v"]}],
"mark":{"type":"line","strokeWidth":2.8,"clip":true},
"encoding":{
"x":{"field":"t","type":"quantitative","title":"temps"},
"y":{"field":"v","type":"quantitative","title":null},
"color":{"field":"s","type":"nominal","scale":{"domain":["a","b","c"],"range":["#000000","#00B050","#FF0000"]},
"legend":{"orient":"none","legendX":282,"legendY":-92.5,"title":null,"labelExpr":"datum.label=='a'?'Témoin':datum.label=='b'?'NP enrobées':'NP brutes'","symbolType":"stroke","symbolStrokeWidth":2.5,"symbolSize":2116,"labelFont":"'Liberation Serif', 'Times New Roman', 'DejaVu Serif', serif","labelFontSize":26,"labelColor":"black","clipHeight":25,"rowPadding":4,"labelOffset":-1,"padding":0}}}},
{"data":{"values":[{"k":"T0","x0":15.4,"x1":29,"ax":22.2,"top":190.4,"tip":198.4,"mid":185.2},{"k":"T1","x0":34.3,"x1":48,"ax":41.15,"top":190.4,"tip":198.4,"mid":185.2},{"k":"T2","x0":51,"x1":64.7,"ax":57.85,"top":190.4,"tip":198.4,"mid":185.2}]},
"layer":[
{"mark":{"type":"rule","color":"black","strokeWidth":1.5},"encoding":{"x":{"field":"ax","type":"quantitative","title":"temps"},"y":{"field":"top","type":"quantitative","title":null},"y2":{"field":"tip"}}},
{"mark":{"type":"point","shape":"M-0.6,1L0,0L0.6,1","size":900,"filled":false,"stroke":"black","strokeWidth":1.5,"opacity":1},"encoding":{"x":{"field":"ax","type":"quantitative","title":"temps"},"y":{"field":"tip","type":"quantitative","title":null}}},
{"mark":{"type":"rect","fill":"white","stroke":"black","strokeWidth":1.5},"encoding":{"x":{"field":"x0","type":"quantitative","title":"temps"},"x2":{"field":"x1"},"y":{"field":"top","type":"quantitative","title":null},"y2":{"datum":180}}},
{"mark":{"type":"text","font":"'Liberation Serif', 'Times New Roman', 'DejaVu Serif', serif","fontSize":24,"baseline":"middle","align":"center","color":"black"},"encoding":{"x":{"field":"ax","type":"quantitative","title":"temps"},"y":{"field":"mid","type":"quantitative","title":null},"text":{"field":"k"}}}
]},
{"data":{"values":[{}]},"mark":{"type":"point","shape":"M-1,-0.57L0,0L-1,0.57","size":1225,"filled":false,"stroke":"black","strokeWidth":1.5,"opacity":1},"encoding":{"x":{"datum":100},"y":{"datum":180}}}
]
},
{
"width":475,"height":367,
"title":{"text":"pH","anchor":"start","frame":"group","dx":103,"offset":-65,"baseline":"alphabetic","font":"'Liberation Serif', 'Times New Roman', 'DejaVu Serif', serif","fontSize":26,"fontWeight":"bold","color":"black"},
"data":{"name":"ph"},
"layer":[
{"mark":{"type":"rule","color":"#BFBFBF","strokeWidth":5,"clip":true},
"encoding":{
"x":{"field":"t","type":"quantitative","scale":{"domain":[0,100],"nice":false,"zero":false},"axis":{"title":"temps","domain":true,"domainColor":"black","domainWidth":2,"ticks":false,"labels":false,"grid":false,"titleFont":"'Liberation Serif', 'Times New Roman', 'DejaVu Serif', serif","titleFontWeight":"normal","titleFontSize":26,"titleColor":"black","titlePadding":0}},
"y":{"field":"lo","type":"quantitative","scale":{"domain":[7,9.5],"nice":false,"zero":false},"axis":{"title":null,"values":[7,7.5,8,8.5,9,9.5],"labelExpr":"replace(format(datum.value,'.2f'),'.',',')","labelOverlap":false,"grid":true,"gridColor":"#A6A6A6","gridWidth":1,"domain":true,"domainColor":"#A6A6A6","domainWidth":1,"ticks":true,"tickSize":7,"tickColor":"#A6A6A6","labelFont":"'Liberation Serif', 'Times New Roman', 'DejaVu Serif', serif","labelFontSize":25,"labelColor":"black","labelPadding":9}},
"y2":{"field":"hi"}}},
{"transform":[{"fold":["a","b","c"],"as":["s","v"]}],
"mark":{"type":"line","strokeWidth":2.3,"clip":true},
"encoding":{
"x":{"field":"t","type":"quantitative","title":"temps"},
"y":{"field":"v","type":"quantitative","title":null},
"color":{"field":"s","type":"nominal","scale":{"domain":["a","b","c"],"range":["#000000","#00B050","#FF0000"]},
"legend":{"orient":"none","legendX":300,"legendY":-84,"title":null,"labelExpr":"datum.label=='a'?'Témoin':datum.label=='b'?'NP enrobées':'NP brutes'","symbolType":"stroke","symbolStrokeWidth":2.5,"symbolSize":1936,"labelFont":"'Liberation Serif', 'Times New Roman', 'DejaVu Serif', serif","labelFontSize":25,"labelColor":"black","clipHeight":22,"rowPadding":1.5,"labelOffset":-1,"padding":0}}}},
{"data":{"values":[{"k":"T0","x0":19.2,"x1":32.6,"ax":25.9,"top":7.323,"tip":7.557,"mid":7.16},{"k":"T1","x0":37.7,"x1":51.2,"ax":44.45,"top":7.323,"tip":7.557,"mid":7.16},{"k":"T2","x0":54.1,"x1":67.6,"ax":60.85,"top":7.323,"tip":7.557,"mid":7.16}]},
"layer":[
{"mark":{"type":"rule","color":"black","strokeWidth":1.5},"encoding":{"x":{"field":"ax","type":"quantitative","title":"temps"},"y":{"field":"top","type":"quantitative","title":null},"y2":{"field":"tip"}}},
{"mark":{"type":"point","shape":"M-0.6,1L0,0L0.6,1","size":900,"filled":false,"stroke":"black","strokeWidth":1.5,"opacity":1},"encoding":{"x":{"field":"ax","type":"quantitative","title":"temps"},"y":{"field":"tip","type":"quantitative","title":null}}},
{"mark":{"type":"rect","fill":"white","stroke":"black","strokeWidth":1.5},"encoding":{"x":{"field":"x0","type":"quantitative","title":"temps"},"x2":{"field":"x1"},"y":{"field":"top","type":"quantitative","title":null},"y2":{"datum":7}}},
{"mark":{"type":"text","font":"'Liberation Serif', 'Times New Roman', 'DejaVu Serif', serif","fontSize":24,"baseline":"middle","align":"center","color":"black"},"encoding":{"x":{"field":"ax","type":"quantitative","title":"temps"},"y":{"field":"mid","type":"quantitative","title":null},"text":{"field":"k"}}}
]},
{"data":{"values":[{}]},"mark":{"type":"point","shape":"M-1,-0.57L0,0L-1,0.57","size":1225,"filled":false,"stroke":"black","strokeWidth":1.5,"opacity":1},"encoding":{"x":{"datum":100},"y":{"datum":7}}}
]
},
{
"width":472,"height":364,
"title":{"text":"Oxygène Dissous (%)","anchor":"start","frame":"group","dx":-4,"offset":-63,"baseline":"alphabetic","font":"'Liberation Serif', 'Times New Roman', 'DejaVu Serif', serif","fontSize":26,"fontWeight":"bold","color":"black"},
"data":{"name":"o2"},
"layer":[
{"mark":{"type":"rule","color":"#BFBFBF","strokeWidth":5,"clip":true},
"encoding":{
"x":{"field":"t","type":"quantitative","scale":{"domain":[0,100],"nice":false,"zero":false},"axis":{"title":"temps","domain":true,"domainColor":"black","domainWidth":2,"ticks":false,"labels":false,"grid":false,"titleFont":"'Liberation Serif', 'Times New Roman', 'DejaVu Serif', serif","titleFontWeight":"normal","titleFontSize":26,"titleColor":"black","titlePadding":1}},
"y":{"field":"lo","type":"quantitative","scale":{"domain":[50,170.66],"nice":false,"zero":false},"axis":{"title":null,"values":[50,70,90,110,130,150,170],"format":"d","labelOverlap":false,"grid":true,"gridColor":"#A6A6A6","gridWidth":1,"domain":true,"domainColor":"#A6A6A6","domainWidth":1,"ticks":true,"tickSize":7,"tickColor":"#A6A6A6","labelFont":"'Liberation Serif', 'Times New Roman', 'DejaVu Serif', serif","labelFontSize":24,"labelColor":"black","labelPadding":13}},
"y2":{"field":"hi"}}},
{"transform":[{"fold":["a","b","c"],"as":["s","v"]}],
"mark":{"type":"line","strokeWidth":2.3,"clip":true},
"encoding":{
"x":{"field":"t","type":"quantitative","title":"temps"},
"y":{"field":"v","type":"quantitative","title":null},
"color":{"field":"s","type":"nominal","scale":{"domain":["a","b","c"],"range":["#000000","#00B050","#FF0000"]},
"legend":{"orient":"none","legendX":280,"legendY":-84,"title":null,"labelExpr":"datum.label=='a'?'Témoin':datum.label=='b'?'NP enrobées':'NP brutes'","symbolType":"stroke","symbolStrokeWidth":2.5,"symbolSize":2116,"labelFont":"'Liberation Serif', 'Times New Roman', 'DejaVu Serif', serif","labelFontSize":25,"labelColor":"black","clipHeight":22,"rowPadding":1.5,"labelOffset":-1,"padding":0}}}},
{"data":{"values":[{"k":"T0","x0":15.4,"x1":29,"ax":22.2,"top":64.4,"tip":75.9,"mid":57.2},{"k":"T1","x0":34.3,"x1":48,"ax":41.15,"top":64.4,"tip":75.9,"mid":57.2},{"k":"T2","x0":51,"x1":64.7,"ax":57.85,"top":64.4,"tip":75.9,"mid":57.2}]},
"layer":[
{"mark":{"type":"rule","color":"black","strokeWidth":1.5},"encoding":{"x":{"field":"ax","type":"quantitative","title":"temps"},"y":{"field":"top","type":"quantitative","title":null},"y2":{"field":"tip"}}},
{"mark":{"type":"point","shape":"M-0.6,1L0,0L0.6,1","size":900,"filled":false,"stroke":"black","strokeWidth":1.5,"opacity":1},"encoding":{"x":{"field":"ax","type":"quantitative","title":"temps"},"y":{"field":"tip","type":"quantitative","title":null}}},
{"mark":{"type":"rect","fill":"white","stroke":"black","strokeWidth":1.5},"encoding":{"x":{"field":"x0","type":"quantitative","title":"temps"},"x2":{"field":"x1"},"y":{"field":"top","type":"quantitative","title":null},"y2":{"datum":50}}},
{"mark":{"type":"text","font":"'Liberation Serif', 'Times New Roman', 'DejaVu Serif', serif","fontSize":24,"baseline":"middle","align":"center","color":"black"},"encoding":{"x":{"field":"ax","type":"quantitative","title":"temps"},"y":{"field":"mid","type":"quantitative","title":null},"text":{"field":"k"}}}
]},
{"data":{"values":[{}]},"mark":{"type":"point","shape":"M-1,-0.57L0,0L-1,0.57","size":1225,"filled":false,"stroke":"black","strokeWidth":1.5,"opacity":1},"encoding":{"x":{"datum":100},"y":{"datum":50}}}
]
}
]
}
